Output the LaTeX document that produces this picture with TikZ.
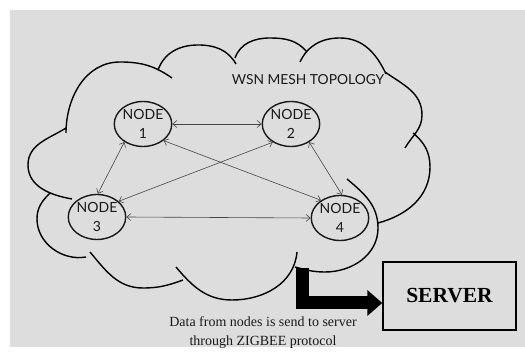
\documentclass[tikz,border=0pt]{standalone}
\usepackage{fontspec}
\setmainfont{Liberation Serif}
\newfontfamily\meshfont{Lato}
\usetikzlibrary{arrows.meta,shapes.geometric}
\definecolor{slide}{RGB}{221,221,221}
\definecolor{ink}{RGB}{25,25,25}
\definecolor{wire}{RGB}{70,70,70}
\tikzset{
  >={Straight Barb[length=4pt,width=7pt]},
  mesh/.style={ellipse,draw=ink,line width=1.4pt,minimum width=56pt,minimum height=45pt,
    inner sep=0pt,align=center,text=ink,font=\meshfont\fontsize{14}{19}\selectfont},
  link/.style={<->,draw=wire,line width=0.6pt},
  lobe/.style={draw=black,line width=1.4pt},
  server box/.style={draw=black,line width=1.4pt,minimum width=133pt,minimum height=68pt,
    font=\fontsize{21.5}{24}\selectfont\bfseries},
  feed/.style={line width=13pt,-{Triangle[length=15pt,width=25pt]}},
  tag/.style={font=\fontsize{14}{19}\selectfont,text=ink,align=center},
}

\begin{document}
\begin{tikzpicture}[x=1pt,y=1pt]
  \useasboundingbox (0,0) rectangle (525,356);
  \fill[slide] (10,9) rectangle (525,346);
  % cloud
  \draw[lobe]
    (66,223) to[out=90,in=180] (120,294) to[out=0,in=145] (172,278)
    (158,286) to[out=70,in=180] (198,311) to[out=0,in=120] (236,292)
    (235,298) to[out=70,in=180] (270,318) to[out=0,in=130] (307,304)
    (300,294) to[out=65,in=180] (340,318) to[out=0,in=115] (386,282)
    (385,284) to[out=-35,in=90] (422,241) to[out=-90,in=60] (405,208)
    (413,223) to[out=-40,in=90] (430,189) to[out=-90,in=15] (378,133)
    (347,177) to[out=-40,in=90] (378,128) to[out=-90,in=0] (325,84) to[out=180,in=-15] (295,89)
    (297,104) to[out=-95,in=0] (232,56) to[out=180,in=-50] (176,89)
    (183,76) to[out=200,in=0] (143,68) to[out=180,in=-50] (90,104)
    (86,99) to[out=190,in=-90] (37,137) to[out=90,in=225] (50,163)
    (72,157) to[out=170,in=-90] (28,191) to[out=90,in=212] (66,228);
  \node[font=\meshfont\fontsize{13.8}{16}\selectfont,text=ink,anchor=base] (title) at (308,271) {WSN MESH TOPOLOGY};
  \node[mesh] (n1) at (143,232) {NODE\\1};
  \node[mesh] (n2) at (291,232) {NODE\\2};
  \node[mesh] (n3) at (97,139) {NODE\\3};
  \node[mesh] (n4) at (340,138) {NODE\\4};
  \draw[link] (n1.east) -- (n2.west);
  \draw[link] (n1.224) -- (n3.88);
  \draw[link] (n2.225) -- (n3.36);
  \draw[link] (n1.-39) -- (n4.137);
  \draw[link] (n2.-45) -- (n4.85);
  \draw[link] (n3.east) -- (n4.west);
  \node[server box] (server) at (449.5,60) {SERVER};
  \coordinate (drop) at (302,88);
  \draw[feed] (drop) |- ([yshift=-7pt]server.west);
  \node[tag,anchor=north] (caption) at (263,43) {Data from nodes is send to server\\through ZIGBEE protocol};
\end{tikzpicture}
\end{document}
